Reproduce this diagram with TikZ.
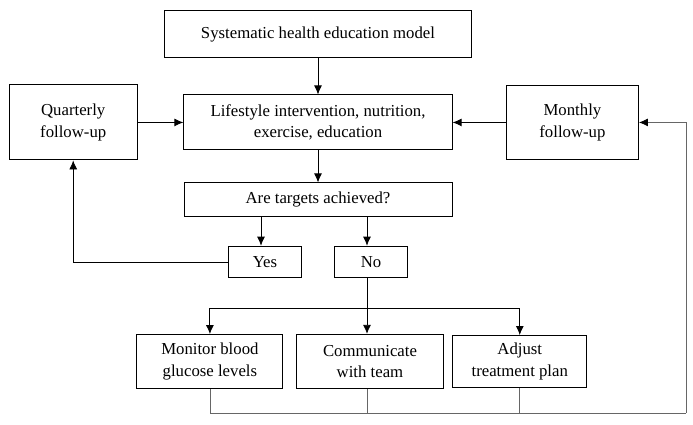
\documentclass[tikz,border=0pt]{standalone}
\usepackage{fontspec}
\setmainfont{Liberation Serif}
\usetikzlibrary{arrows.meta,positioning}

\begin{document}
\begin{tikzpicture}[x=0.03cm,y=-0.03cm,
    box/.style={rectangle, draw, line width=0.8pt, fill=white, align=center, font=\fontsize{14.3}{18.5}\selectfont, inner sep=2pt},
    arrow/.style={line width=0.7pt,-{Latex[length=2.7mm,width=2.4mm,color=black]}},
    back/.style={line width=0.6pt, draw=black!60}
]
\useasboundingbox (0,0) rectangle (693,425);

\node[box, minimum width=9.2cm, minimum height=1.4cm] (top) at (318,34) {Systematic health education model};
\node[box, minimum width=8.05cm, minimum height=1.65cm, below=1.1cm of top] (life) {Lifestyle intervention, nutrition,\\exercise, education};
\node[box, minimum width=8.04cm, minimum height=1cm, below=0.96cm of life] (tgt) {Are targets achieved?};
\node[box, minimum width=3.84cm, minimum height=2.25cm, left=1.37cm of life] (quart) {Quarterly\\follow-up};
\node[box, minimum width=3.96cm, minimum height=2.22cm, right=1.6cm of life] (month) {Monthly\\follow-up};

\node[box, minimum width=2.19cm, minimum height=0.95cm] (yes) at (265,262) {Yes};
\node[box, minimum width=2.19cm, minimum height=0.95cm] (no) at (371,262) {No};

\node[box, minimum width=4.41cm, minimum height=1.63cm] (comm) at (370,361.5) {Communicate\\with team};
\node[box, minimum width=4.38cm, minimum height=1.62cm, left=0.38cm of comm] (mon) {Monitor blood\\glucose levels};
\node[box, minimum width=4.02cm, minimum height=1.56cm, right=0.25cm of comm] (adj) {Adjust\\treatment plan};

\coordinate (split) at (367,308);
\coordinate (loop) at (686,413);

% main column
\draw[arrow] (top) -- (life);
\draw[arrow] (life.south) -- (life.south |- tgt.north);
\draw[arrow] (quart.east) -- (quart.east -| life.west);
\draw[arrow] (month.west) -- (month.west -| life.east);

% decision
\draw[arrow] ([xshift=-0.12cm]yes.north |- tgt.south) -- ([xshift=-0.12cm]yes.north);
\draw[arrow] ([xshift=-0.12cm]no.north |- tgt.south) -- ([xshift=-0.12cm]no.north);
\draw[arrow] (yes.west) -| (quart.south);
\draw[line width=0.7pt] ([xshift=-0.12cm]no.south) -- (split);
\draw[arrow] (split) -- (split |- comm.north);
\draw[arrow] (split) -| (mon);
\draw[arrow] (split) -| (adj);

% back to monthly follow-up
\draw[back] (mon) |- (loop);
\draw[back] (comm.south -| split) -- (split |- loop);
\draw[back] (adj) -- (adj |- loop);
\draw[back, arrow] (loop) |- (month.east);

\end{tikzpicture}
\end{document}
